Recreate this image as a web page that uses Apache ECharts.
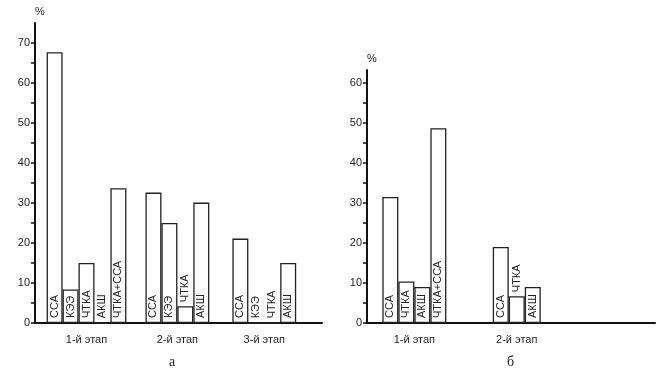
<!DOCTYPE html>
<html>
<head>
<meta charset="utf-8">
<script src="https://cdn.jsdelivr.net/npm/echarts@6/dist/echarts.min.js"></script>
<style>
  html, body { margin: 0; padding: 0; background: #fff; }
  #chart { width: 670px; height: 378px; }
</style>
</head>
<body>
<div id="chart"></div>
<script>
// ---------------- 데이터 ----------------
// а : 3 этапа
const stagesA = ["1-й этап", "2-й этап", "3-й этап"];
const barsA = [
  ["ССА", "КЭЭ", "ЧТКА", "АКШ", "ЧТКА+ССА"],
  ["ССА", "КЭЭ", "ЧТКА", "АКШ"],
  ["ССА", "КЭЭ", "ЧТКА", "АКШ"],
];
const valuesA = [
  [67.7, 8.4, 15, 0, 33.7],
  [32.6, 25, 4.2, 30.1],
  [21.1, 0, 0, 15],
];
const yTicksA = [0, 10, 20, 30, 40, 50, 60, 70];

// б : 2 этапа
const stagesB = ["1-й этап", "2-й этап"];
const barsB = [
  ["ССА", "ЧТКА", "АКШ", "ЧТКА+ССА"],
  ["ССА", "ЧТКА", "АКШ"],
];
const valuesB = [
  [31.5, 10.4, 9, 48.7],
  [19, 6.7, 9],
];
const yTicksB = [0, 10, 20, 30, 40, 50, 60];

// ---------------- 레이아웃 (막대 단위) ----------------
const layoutA = { lead: 0.73, gaps: [1.2, 1.45] };
const layoutB = { lead: 0.96, gaps: [2.9] };

const FONT = "Liberation Sans";
const INK = "#222";

// 그룹 -> 막대 위치 계산
function buildBars(stages, bars, values, layout) {
  const data = [];
  const centers = [];
  let pos = layout.lead;
  stages.forEach((stage, g) => {
    const start = pos;
    bars[g].forEach((name, i) => {
      const v = values[g][i];
      const outside = v < 7; // 짧은 막대는 라벨을 위로
      data.push({
        value: [pos + 0.5, v],
        label: {
          formatter: name,
          position: outside ? "top" : "insideBottom",
          distance: outside ? 4 : 5,
        },
      });
      pos += 1;
    });
    centers.push((start + pos) / 2);
    pos += layout.gaps[g] || 0;
  });
  return { data, centers };
}

// 눈금 5 단위
function minorTicks(major) {
  const t = [];
  for (let v = 0; v <= major[major.length - 1]; v += 5) t.push(v);
  return t;
}

const a = buildBars(stagesA, barsA, valuesA, layoutA);
const b = buildBars(stagesB, barsB, valuesB, layoutB);

function xAxisFor(gridIndex, centers, stages) {
  return {
    gridIndex: gridIndex,
    type: "value",
    min: 0,
    max: 18,
    axisLine: { lineStyle: { color: "#111", width: 2 } },
    axisTick: { show: false },
    splitLine: { show: false },
    axisLabel: {
      customValues: centers,
      margin: 11,
      color: INK,
      fontFamily: FONT,
      fontSize: 11,
      formatter: function (v) {
        let best = 0;
        centers.forEach((c, i) => {
          if (Math.abs(c - v) < Math.abs(centers[best] - v)) best = i;
        });
        return stages[best];
      },
    },
  };
}

function yAxisFor(gridIndex, max, ticks) {
  return {
    gridIndex: gridIndex,
    type: "value",
    min: 0,
    max: max,
    name: "%",
    nameLocation: "end",
    nameGap: 6,
    nameTextStyle: { color: INK, fontFamily: FONT, fontSize: 11, padding: [0, 0, 0, 10] },
    axisLine: { show: true, lineStyle: { color: "#111", width: 2 } },
    axisTick: {
      show: true,
      customValues: minorTicks(ticks),
      length: 4,
      lineStyle: { color: "#111", width: 1.5 },
    },
    axisLabel: {
      customValues: ticks,
      margin: 5,
      color: INK,
      fontFamily: FONT,
      fontSize: 11,
    },
    splitLine: { show: false },
  };
}

function barSeries(idx, data) {
  return {
    type: "bar",
    xAxisIndex: idx,
    yAxisIndex: idx,
    barWidth: 16,
    data: data,
    itemStyle: { color: "#fff", borderColor: INK, borderWidth: 1.3 },
    label: {
      show: true,
      rotate: 90,
      align: "left",
      verticalAlign: "middle",
      color: INK,
      fontFamily: FONT,
      fontSize: 11,
    },
    silent: true,
  };
}

let chartDom = document.getElementById("chart");
let myChart = echarts.init(chartDom);
let option;

option = {
  backgroundColor: "#fff",
  animation: false,
  title: [
    { text: "а", left: 164, top: 350, textStyle: { fontFamily: "Liberation Serif", fontSize: 14, fontWeight: "normal", color: INK } },
    { text: "б", left: 502, top: 350, textStyle: { fontFamily: "Liberation Serif", fontSize: 14, fontWeight: "normal", color: INK } },
  ],
  grid: [
    { left: 35, top: 23, width: 287, height: 300 },
    { left: 367, top: 70, width: 288, height: 253 },
  ],
  xAxis: [xAxisFor(0, a.centers, stagesA), xAxisFor(1, b.centers, stagesB)],
  yAxis: [yAxisFor(0, 75, yTicksA), yAxisFor(1, 63.25, yTicksB)],
  series: [barSeries(0, a.data), barSeries(1, b.data)],
};

myChart.setOption(option);
</script>
</body>
</html>
